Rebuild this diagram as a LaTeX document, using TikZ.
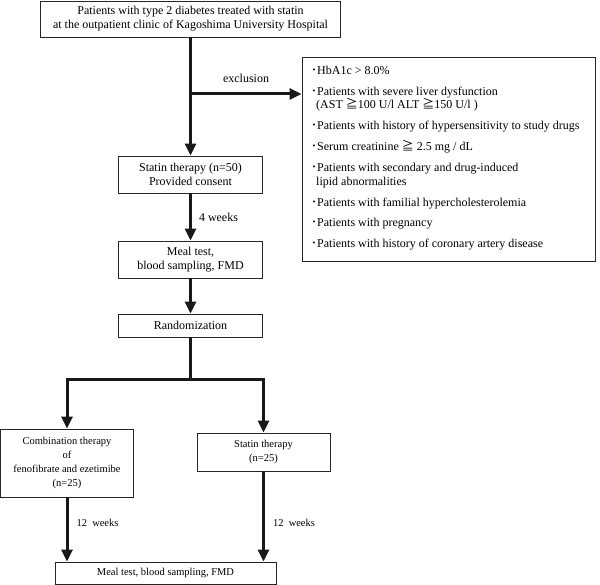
\documentclass[tikz,border=0pt]{standalone}
\usepackage{fontspec}
\setmainfont{Liberation Serif}
\newfontfamily\cjk{Noto Sans CJK JP}
\usetikzlibrary{positioning}
\usetikzlibrary{arrows.meta}
\newcommand{\listdot}{{\cjk ･}}
\tikzset{
    mybox/.style = {rectangle, draw=black!85, line width=0.9pt, align=center, inner sep=0pt, font=\fontsize{12}{14}\selectfont, text=black},
    myboxs/.style = {mybox, font=\fontsize{10.5}{14.2}\selectfont},
    mylist/.style = {align=left, inner sep=0pt, font=\fontsize{12}{13.5}\selectfont, text=black},
    mylabel/.style = {inner sep=0pt, font=\fontsize{12}{14}\selectfont, text=black},
    mylabels/.style = {mylabel, font=\fontsize{10.5}{14}\selectfont},
    edgea/.style = {-{Triangle[length=12pt,width=11pt]}, line width=3pt, black!90},
    edgen/.style = {-, line width=3pt, black!90},
}
\begin{document}
\begin{tikzpicture}[x=1pt,y=-1pt]
\useasboundingbox (0,0) rectangle (600,585);
%
\node[mybox, minimum width=300pt, minimum height=36pt] at (190.5,19) (top) {Patients with type 2 diabetes treated with statin\\at the outpatient clinic of Kagoshima University Hospital};
\node[mybox, minimum width=144pt, minimum height=37pt] at (190.5,174.5) (statin) {Statin therapy (n=50)\\Provided consent};
\node[mybox, minimum width=144pt, minimum height=37pt] at (190.5,259.5) (meal) {Meal test,\\blood sampling, FMD};
\node[mybox, minimum width=144pt, minimum height=23pt] at (190.5,325.5) (rand) {Randomization};
\node[myboxs, minimum width=133pt, minimum height=68pt] at (67,463) (combo) {Combination therapy\\of\\fenofibrate and ezetimibe\\(n=25)};
\node[myboxs, minimum width=133pt, minimum height=38pt] at (263.5,452) (statinb) {Statin therapy\\(n=25)};
\node[myboxs, minimum width=221pt, minimum height=22.5pt] at (165.5,573.25) (final) {Meal test, blood sampling, FMD};
\node[mybox, minimum width=293pt, minimum height=204pt] at (448.5,159) (excl) {};
\node[mylist, anchor=north west] at (311,66) (crit) {\listdot HbA1c > 8.0\%\\[7.4pt]
\listdot Patients with severe liver dysfunction\\
\hspace*{5pt}(AST {\cjk ≧}100 U/l ALT {\cjk ≧}150 U/l )\\[7.4pt]
\listdot Patients with history of hypersensitivity to study drugs\\[7.4pt]
\listdot Serum creatinine {\cjk ≧} 2.5 mg / dL\\[7.4pt]
\listdot Patients with secondary and drug-induced\\
\hspace*{5pt}lipid abnormalities\\[7.4pt]
\listdot Patients with familial hypercholesterolemia\\[7.4pt]
\listdot Patients with pregnancy\\[7.4pt]
\listdot Patients with history of coronary artery disease};
%
\coordinate (ex) at (190.5,94);
\coordinate (split) at (190.5,380);
%
\draw[edgea] (top) -- (statin);
\draw[edgea] (ex) -- (ex -| excl.west) node[mylabel, midway, above=10pt] {exclusion};
\draw[edgea] (statin) -- (meal) node[mylabel, midway, right=7pt] {4 weeks};
\draw[edgea] (meal) -- (rand);
\draw[edgen] (rand) -- (split);
\draw[edgea] (split) -| (combo);
\draw[edgea] (split) -| (statinb);
\draw[edgea] (combo) -- (combo |- final.north) node[mylabels, pos=0.4, right=8pt] {12\ \ weeks};
\draw[edgea] (statinb) -- (statinb |- final.north) node[mylabels, pos=0.57, right=8pt] {12\ \ weeks};

\end{tikzpicture}
\end{document}
